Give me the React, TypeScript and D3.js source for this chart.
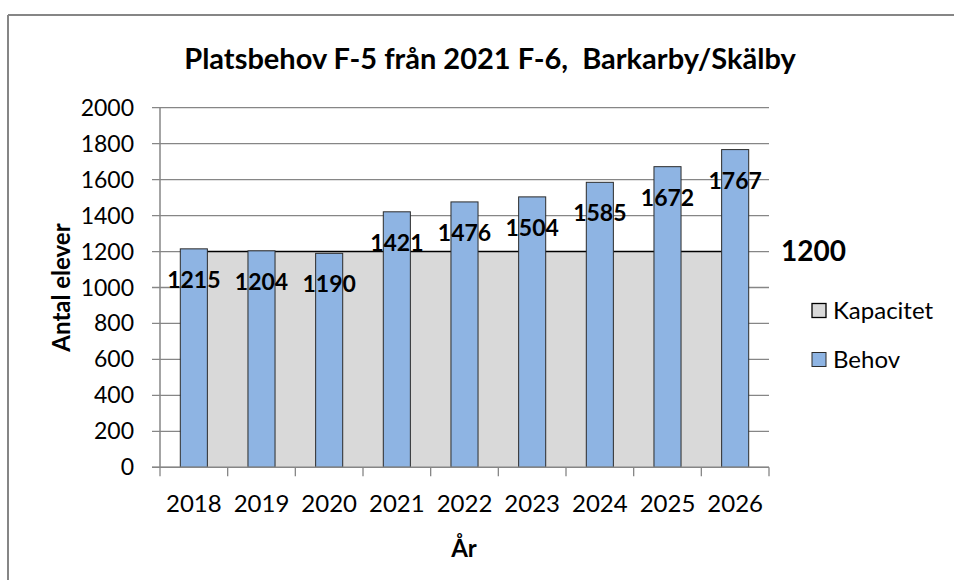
import React from 'react';
import * as d3 from 'd3';

const years = ['2018', '2019', '2020', '2021', '2022', '2023', '2024', '2025', '2026'];
const behov = [1215, 1204, 1190, 1421, 1476, 1504, 1585, 1672, 1767];
const kapacitet = [1200, 1200, 1200, 1200, 1200, 1200, 1200, 1200, 1200];
const yTicks = [0, 200, 400, 600, 800, 1000, 1200, 1400, 1600, 1800, 2000];
const seriesNames = ['Kapacitet', 'Behov'];
const titleText = 'Platsbehov F-5 från 2021 F-6,  Barkarby/Skälby';
const yTitle = 'Antal elever';
const xTitle = 'År';

const W = 954;
const H = 580;
const FONT = 'Lato, "Open Sans", sans-serif';

export default function App() {
  const x0 = 160, x1 = 769;
  const yTop = 107.7, yBot = 467.3;
  const x = d3.scaleBand().domain(years).range([x0, x1]).paddingInner(0).paddingOuter(0);
  const y = d3.scaleLinear().domain([0, 2000]).range([yBot, yTop]);
  const step = x.step();
  const barW = step * 0.4;
  const cx = (d: string) => (x(d) as number) + step / 2;

  const areaGen = d3.area<number>()
    .x((_, i) => cx(years[i]))
    .y0(y(0))
    .y1((d) => y(d));
  const lineGen = d3.line<number>()
    .x((_, i) => cx(years[i]))
    .y((d) => y(d));

  const gridColor = '#868686';
  const lastK = kapacitet[kapacitet.length - 1];

  return (
    <svg width={W} height={H} style={{ position: 'fixed', left: 0, top: 0, background: '#fff' }}>
      <rect x={0} y={0} width={W} height={H} fill="#fff" />
      {/* outer chart border */}
      <line x1={8} y1={15} x2={W} y2={15} stroke={gridColor} strokeWidth={2} />
      <line x1={8} y1={15} x2={8} y2={H} stroke={gridColor} strokeWidth={2} />

      {/* title */}
      <text x={490} y={69} textAnchor="middle" fontFamily={FONT} fontWeight={700} fontSize={29} fill="#000" style={{ whiteSpace: 'pre' }}>
        {titleText}
      </text>

      {/* gridlines */}
      {yTicks.map((t) => (
        <line key={'g' + t} x1={x0 - 8} x2={x1} y1={y(t)} y2={y(t)} stroke={gridColor} strokeWidth={1.3} />
      ))}

      {/* y tick labels */}
      {yTicks.map((t) => (
        <text key={'yt' + t} x={134} y={y(t) + 8} textAnchor="end" fontFamily={FONT} fontSize={23} fill="#000">
          {t}
        </text>
      ))}

      {/* Kapacitet area */}
      <path d={areaGen(kapacitet) || ''} fill="#D9D9D9" />
      <path d={lineGen(kapacitet) || ''} fill="none" stroke="#000" strokeWidth={1.6} />

      {/* Behov bars */}
      {behov.map((v, i) => (
        <rect key={'b' + i} x={cx(years[i]) - barW / 2} y={y(v)} width={barW} height={y(0) - y(v)}
          fill="#8EB4E3" stroke="#2b2b2b" strokeWidth={1} />
      ))}

      {/* axes */}
      <line x1={x0} x2={x0} y1={yTop} y2={yBot} stroke={gridColor} strokeWidth={1.5} />
      <line x1={x0 - 8} x2={x1} y1={yBot} y2={yBot} stroke={gridColor} strokeWidth={1.5} />
      {years.concat(['end']).map((d, i) => (
        <line key={'xt' + i} x1={x0 + i * step} x2={x0 + i * step} y1={yBot} y2={yBot + 9} stroke={gridColor} strokeWidth={1.3} />
      ))}

      {/* x tick labels */}
      {years.map((d) => (
        <text key={'xl' + d} x={cx(d)} y={512} textAnchor="middle" fontFamily={FONT} fontSize={24} fill="#000">
          {d}
        </text>
      ))}

      {/* bar value labels */}
      {behov.map((v, i) => (
        <text key={'bl' + i} x={cx(years[i])} y={y(v) + 39} textAnchor="middle" fontFamily={FONT} fontWeight={700} fontSize={23} fill="#000">
          {v}
        </text>
      ))}

      {/* Kapacitet label */}
      <text x={781} y={y(lastK) + 9} fontFamily={FONT} fontWeight={700} fontSize={28} fill="#000">
        {lastK}
      </text>

      {/* axis titles */}
      <text x={464} y={557} textAnchor="middle" fontFamily={FONT} fontWeight={700} fontSize={24} fill="#000">
        {xTitle}
      </text>
      <text transform={`translate(70,${(yTop + yBot) / 2}) rotate(-90)`} textAnchor="middle" fontFamily={FONT} fontWeight={700} fontSize={24} fill="#000">
        {yTitle}
      </text>

      {/* legend */}
      <rect x={812} y={303.5} width={14} height={14} fill="#D9D9D9" stroke="#000" strokeWidth={1.3} />
      <text x={833} y={319} fontFamily={FONT} fontSize={24} fill="#000">{seriesNames[0]}</text>
      <rect x={812} y={352.5} width={14} height={14} fill="#8EB4E3" stroke="#2b2b2b" strokeWidth={1} />
      <text x={833} y={368} fontFamily={FONT} fontSize={24} fill="#000">{seriesNames[1]}</text>
    </svg>
  );
}
